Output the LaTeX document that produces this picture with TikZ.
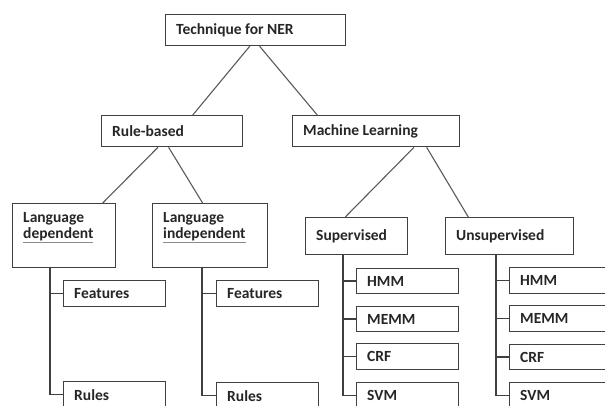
\documentclass[tikz,border=0pt]{standalone}
\usepackage{fontspec}
\setmainfont{Carlito}
\usetikzlibrary{calc}
\newcommand\grayul[1]{{\color{black!45}\underline{\textcolor{black!85}{#1}}}}
\begin{document}
\begin{tikzpicture}[x=1pt,y=-1pt,
  box/.style={draw=black!75, line width=1.3pt, rectangle, inner sep=0pt, anchor=north west},
  lbl/.style={anchor=west, inner sep=0pt, label distance=0pt, xshift=11pt,
    font=\fontsize{15.5}{16}\selectfont\bfseries, text=black!85},
  tall/.style={lbl, anchor=north west, align=left, yshift=-9pt},
  conn/.style={draw=black!65, line width=1.1pt},
  branch/.style={draw=black!75, line width=1.5pt}]
\useasboundingbox (0,0) rectangle (605,405);
\clip (0,0) rectangle (605,405);

\node[box, minimum width=180pt, minimum height=31pt, label={[lbl]west:Technique for NER}] (tech) at (165,14) {};
\node[box, minimum width=141pt, minimum height=31pt, label={[lbl]west:Rule-based}] (rule) at (101,115) {};
\node[box, minimum width=167pt, minimum height=31pt, label={[lbl]west:Machine Learning}] (ml) at (292,115) {};

\node[box, minimum width=103pt, minimum height=64pt, label={[tall]north west:Language\\\grayul{dependent}}] (ld) at (12,203) {};
\node[box, minimum width=115pt, minimum height=64pt, label={[tall]north west:Language\\\grayul{independent}}] (li) at (152,203) {};
\node[box, minimum width=102pt, minimum height=37pt, label={[lbl]west:Supervised}] (sup) at (305,217) {};
\node[box, minimum width=128pt, minimum height=37pt, label={[lbl]west:Unsupervised}] (uns) at (445,217) {};

\node[box, minimum width=102pt, minimum height=26pt, label={[lbl]west:Features}] (f1) at (63,280) {};
\node[box, minimum width=102pt, minimum height=26pt, label={[lbl]west:Rules}] (r1) at (63,381) {};
\node[box, minimum width=102pt, minimum height=26pt, label={[lbl]west:Features}] (f2) at (216,280) {};
\node[box, minimum width=102pt, minimum height=26pt, label={[lbl]west:Rules}] (r2) at (216,382) {};

\node[box, minimum width=102pt, minimum height=25pt, label={[lbl]west:HMM}] (sh) at (356,268) {};
\node[box, minimum width=102pt, minimum height=25pt, label={[lbl]west:MEMM}] (sm) at (356,306) {};
\node[box, minimum width=102pt, minimum height=26pt, label={[lbl]west:CRF}] (sc) at (356,343) {};
\node[box, minimum width=102pt, minimum height=26pt, label={[lbl]west:SVM}] (ss) at (356,382) {};

\node[box, minimum width=120pt, minimum height=26pt, label={[lbl]west:HMM}] (uh) at (509,267) {};
\node[box, minimum width=120pt, minimum height=26pt, label={[lbl]west:MEMM}] (um) at (509,305) {};
\node[box, minimum width=120pt, minimum height=25pt, label={[lbl]west:CRF}] (uc) at (509,344) {};
\node[box, minimum width=120pt, minimum height=26pt, label={[lbl]west:SVM}] (us) at (509,382) {};

\draw[conn] ($(tech.south west)!0.467!(tech.south east)$) -- ($(rule.north west)!0.645!(rule.north east)$);
\draw[conn] ($(tech.south west)!0.522!(tech.south east)$) -- ($(ml.north west)!0.15!(ml.north east)$);
\draw[conn] ($(rule.south west)!0.40!(rule.south east)$) -- ($(ld.north west)!0.87!(ld.north east)$);
\draw[conn] ($(rule.south west)!0.475!(rule.south east)$) -- ($(li.north west)!0.435!(li.north east)$);
\draw[conn] ($(ml.south west)!0.725!(ml.south east)$) -- ($(sup.north west)!0.39!(sup.north east)$);
\draw[conn] ($(ml.south west)!0.80!(ml.south east)$) -- ($(uns.north west)!0.18!(uns.north east)$);

\draw[branch] ($(ld.south west)+(38,0)$) |- (f1.west);
\draw[branch] ($(ld.south west)+(38,0)$) |- (r1.west);
\draw[branch] ($(li.south west)+(50,0)$) |- (f2.west);
\draw[branch] ($(li.south west)+(50,0)$) |- (r2.west);
\draw[branch] ($(sup.south west)+(38,0)$) |- (sh.west);
\draw[branch] ($(sup.south west)+(38,0)$) |- (sm.west);
\draw[branch] ($(sup.south west)+(38,0)$) |- (sc.west);
\draw[branch] ($(sup.south west)+(38,0)$) |- (ss.west);
\draw[branch] ($(uns.south west)+(51,0)$) |- (uh.west);
\draw[branch] ($(uns.south west)+(51,0)$) |- (um.west);
\draw[branch] ($(uns.south west)+(51,0)$) |- (uc.west);
\draw[branch] ($(uns.south west)+(51,0)$) |- (us.west);
\end{tikzpicture}
\end{document}
